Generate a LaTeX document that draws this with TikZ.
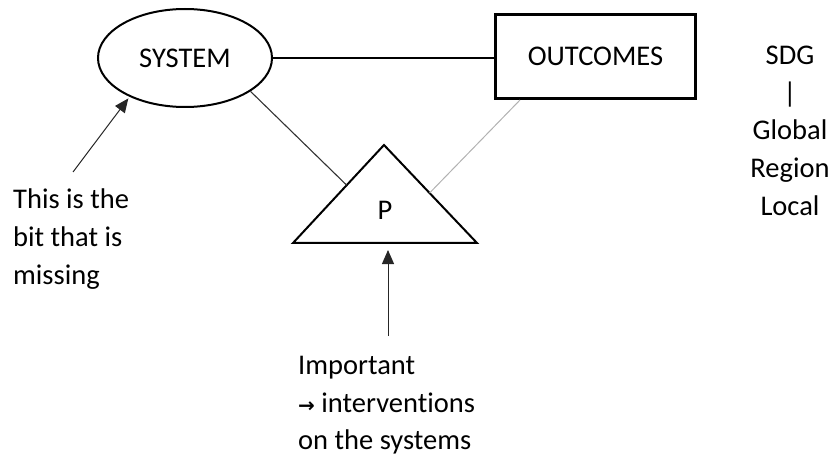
\documentclass[tikz,border=0pt]{standalone}
\usepackage{fontspec}
\setmainfont{Carlito}[Ligatures={NoCommon,NoContextual}]
\newfontfamily\symfont{DejaVu Sans}
\usetikzlibrary{shapes.geometric,arrows.meta,calc}
\begin{document}
\begin{tikzpicture}[x=1pt,y=-1pt,
  txt/.style={font=\fontsize{28.5}{37.6}\selectfont, inner sep=0pt},
  shp/.style={draw=black, line width=2pt},
  conn/.style={draw=black!80, line width=1.1pt},
  pointer/.style={draw=black!85, line width=1pt, -{Triangle[length=14pt,width=12pt]}}]
\useasboundingbox (0,0) rectangle (838,457);
% shapes
\node[shp, ellipse, minimum width=174pt, minimum height=98pt, txt] (sys) at (185,58) {SYSTEM};
\node[draw=black, line width=3pt, minimum width=200pt, minimum height=84pt, txt] (out) at (595.5,56.5) {OUTCOMES};
\coordinate (apex) at (384,145);
\coordinate (bl) at (293,243);
\coordinate (br) at (477,243);
\draw[shp, line join=miter] (apex) -- (bl) -- (br) -- cycle;
\node[txt] (p) at (385,210) {P};
% connectors
\draw[draw=black, line width=1.2pt] (sys.east) -- (sys.east -| out.west);
\draw[conn] (sys.-27) -- ($(apex)!0.41!(bl)$);
\draw[draw=black!30, line width=1pt] ($(out.south west)+(26,0)$) -- ($(apex)!0.49!(br)$);
% annotations
\node[txt, anchor=north west, align=left] (missing) at (13,189) {This is the\\bit that is\\missing};
\coordinate (mtail) at (73,172);
\draw[pointer, shorten >=2pt] (mtail) -- (sys.215);
\node[txt, anchor=north west, align=left] (imp) at (298,356) {Important\\{\symfont\bfseries\fontsize{20}{20}\selectfont →} interventions\\on the systems};
\coordinate (itail) at (388,336);
\coordinate (ibase) at (388,243);
\draw[pointer, shorten >=7pt] (itail) -- (ibase);
\node[txt, anchor=north, align=center] (sdg) at (790,46) {SDG\\|\\Global\\Region\\Local};
\end{tikzpicture}
\end{document}
